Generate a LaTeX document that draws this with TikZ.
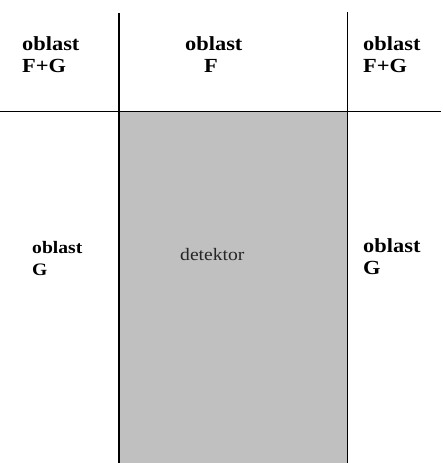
\documentclass[tikz,border=0pt]{standalone}
\usepackage{fontspec}
\setmainfont{Liberation Serif}
\newfontfamily\labfont[FakeStretch=1.12]{Liberation Serif}
\definecolor{detgray}{RGB}{192,192,192}
\begin{document}
\begin{tikzpicture}[x=1pt,y=-1pt,
  line/.style={draw=black,line width=1.4pt},
  lbl/.style={anchor=base west,inner sep=0pt,font=\labfont\bfseries\fontsize{20}{22}\selectfont},
  lbls/.style={anchor=base west,inner sep=0pt,font=\labfont\bfseries\fontsize{17.5}{20}\selectfont},
  det/.style={anchor=base west,inner sep=0pt,font=\labfont\fontsize{17.5}{20}\selectfont,text=black!85}]
\useasboundingbox (0,0) rectangle (442,463);
\coordinate (lt) at (119,13);
\coordinate (lb) at (119,463);
\coordinate (rt) at (347.5,12);
\coordinate (rb) at (347.5,463);
\coordinate (hl) at (0,111.5);
\coordinate (hr) at (441,111.5);
\fill[detgray] (119,111.5) rectangle (rb);
\draw[line] (lt) -- (lb);
\draw[line] (rt) -- (rb);
\draw[line] (hl) -- (hr);
% top labels
\node[lbl] (t1a) at (22,50) {oblast};
\node[lbl] (t1b) at (22,72) {F+G};
\node[lbl] (t2a) at (185,50) {oblast};
\node[lbl] (t2b) at (204,72) {F};
\node[lbl] (t3a) at (363,50) {oblast};
\node[lbl] (t3b) at (363,72) {F+G};
% lower labels
\node[lbls] (b1a) at (32,253) {oblast};
\node[lbls] (b1b) at (32,275) {G};
\node[det] (det) at (180,260) {detektor};
\node[lbl] (b3a) at (363,252) {oblast};
\node[lbl] (b3b) at (363,274) {G};
\end{tikzpicture}
\end{document}
